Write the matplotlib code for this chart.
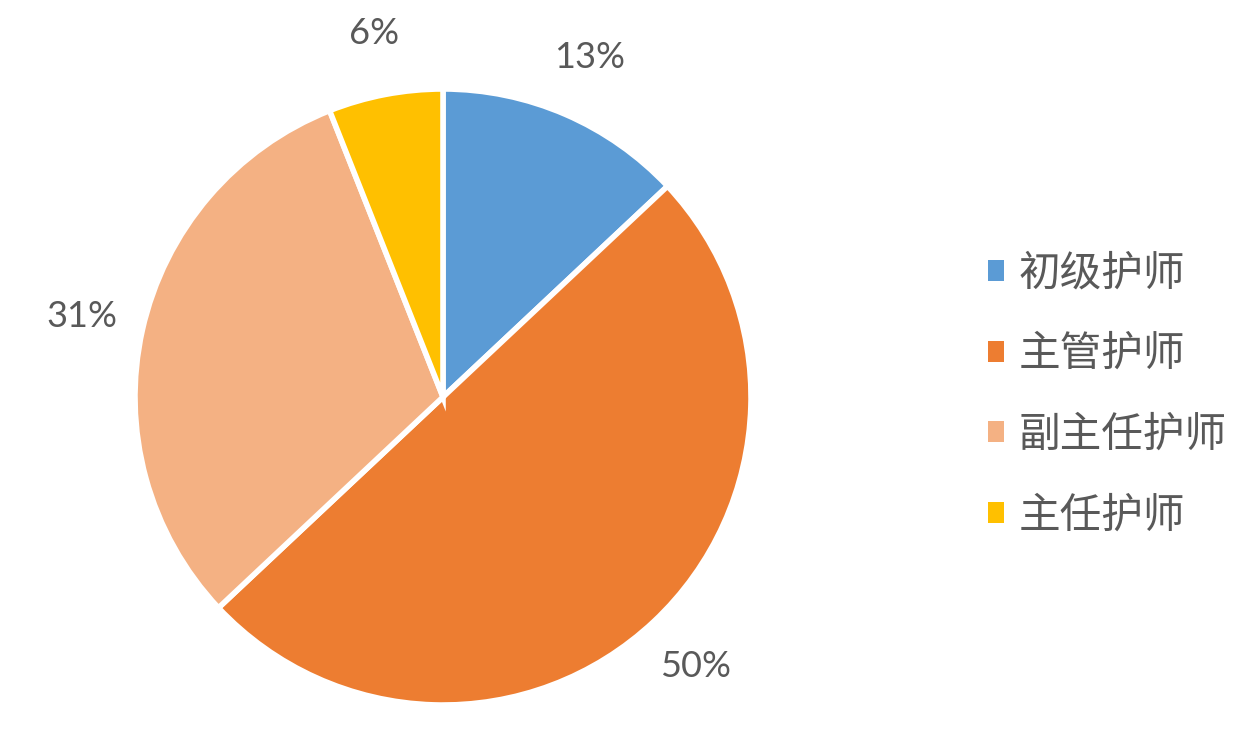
import numpy as np
import matplotlib.pyplot as plt
from matplotlib.patches import Patch

plt.rcParams['font.family'] = ['Noto Sans CJK SC', 'DejaVu Sans']

# 数据
categories = ["初级护师", "主管护师", "副主任护师", "主任护师"]
shares = [13, 50, 31, 6]
colors = ["#5B9BD5", "#ED7D31", "#F4B183", "#FFC000"]

fig = plt.figure(figsize=(12.47, 7.34), dpi=100)
ax = fig.add_axes([(443 - 308) / 1247, (734 - 705) / 734, 616 / 1247, 616 / 734])

wedges, texts, autotexts = ax.pie(
    shares, colors=colors, startangle=90, counterclock=False,
    autopct=lambda p: f"{p:.0f}%", pctdistance=1.2, radius=1,
    wedgeprops=dict(edgecolor="white", linewidth=4),
    textprops=dict(fontsize=26, color="#595959", family=["Lato", "DejaVu Sans"]),
)
ax.set_xlim(-1, 1)
ax.set_ylim(-1, 1)
ax.set_aspect("equal")

handles = [Patch(facecolor=c, edgecolor="none") for c in colors]
fig.legend(handles, categories, loc="center left", bbox_to_anchor=(0.792, 0.462),
           frameon=False, labelcolor="#595959",
           prop=dict(size=30, weight="light"),
           borderpad=0, borderaxespad=0,
           handlelength=0.4, handleheight=0.4, handletextpad=0.35,
           labelspacing=0.95)

fig.savefig("out.png", dpi=100)
